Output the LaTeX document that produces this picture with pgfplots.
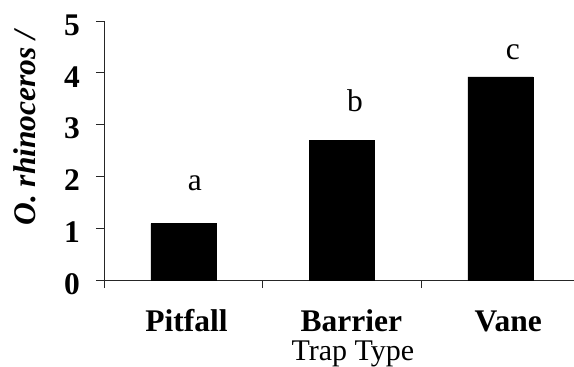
\documentclass[border=0pt]{standalone}
\usepackage{fontspec}
\setmainfont{Liberation Serif}
\usepackage{pgfplots}
\pgfplotsset{compat=1.18}
\newcommand{\fs}{\fontsize{31.5}{36}\selectfont}
\begin{document}
\begin{tikzpicture}
\useasboundingbox (-104pt,-87pt) rectangle (470pt,280pt);
\begin{axis}[
  at={(0pt,0pt)}, anchor=south west,
  scale only axis, width=470pt, height=259pt,
  xmin=0, xmax=2.965, ymin=0, ymax=5,
  axis lines=left, axis line style={-, line width=0.8pt, black!85},
  tick style={line width=0.8pt, black!85},
  tick align=outside, major tick length=8pt,
  xtick={0,1,2}, xticklabels={},
  extra x ticks={0.52,1.56,2.55},
  extra x tick labels={Pitfall,Barrier,Vane},
  extra x tick style={major tick length=0pt,
     xticklabel style={font=\fs\bfseries, anchor=base, inner sep=0pt, yshift=-52pt}},
  ytick={0,1,2,3,4,5},
  /pgf/number format/assume math mode=true,
  yticklabel style={font=\fs\bfseries, anchor=east, inner sep=0pt, xshift=-16pt, yshift=-4pt},
  ybar, bar width=65pt,
  clip=false,
]
\addplot[fill=black, draw=black] coordinates {(0.5,1.09) (1.5,2.70) (2.5,3.92)};
\node[font=\fs] at (axis cs:0.574,1.87) {a};
\node[font=\fs] at (axis cs:1.584,3.47) {b};
\node[font=\fs] at (axis cs:2.58,4.40) {c};
\node[font=\fontsize{30}{34}\selectfont, anchor=base, inner sep=0pt] at (axis cs:1.57,0) [yshift=-80.5pt] {Trap Type};
\end{axis}
\node[font=\fs\bfseries\itshape, rotate=90] at (-79pt,152pt) {O. rhinoceros /};
\end{tikzpicture}
\end{document}
